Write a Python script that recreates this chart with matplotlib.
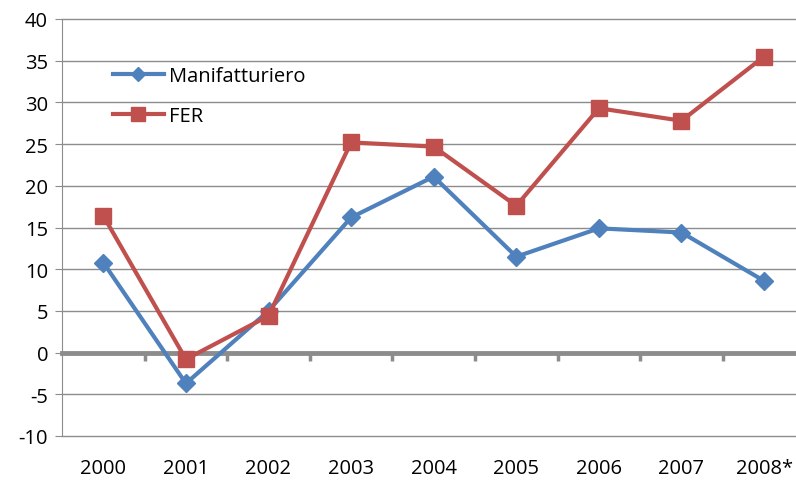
import matplotlib
matplotlib.use("Agg")
import matplotlib.pyplot as plt

years = ["2000", "2001", "2002", "2003", "2004", "2005", "2006", "2007", "2008*"]
manifatturiero = [10.8, -3.7, 5.0, 16.2, 21.1, 11.5, 14.9, 14.4, 8.6]
fer = [16.4, -0.8, 4.4, 25.2, 24.7, 17.6, 29.3, 27.8, 35.5]

plt.rcParams['font.family'] = ['Open Sans', 'DejaVu Sans']
plt.rcParams['axes.unicode_minus'] = False

fig = plt.figure(figsize=(7.96, 4.85), dpi=100)
ax = fig.add_axes([62 / 796, 48 / 485, 1 - 62 / 796, (437 - 20) / 485])

x = list(range(len(years)))
ax.plot(x, manifatturiero, color="#4F81BD", lw=3, marker="D", ms=9,
        label="Manifatturiero", zorder=4)
ax.plot(x, fer, color="#C0504D", lw=3, marker="s", ms=12,
        label="FER", zorder=5)

ymin, ymax = -10, 40
ax.set_ylim(ymin, ymax)
ax.set_xlim(-0.5, (796 - 62) / 82.6 - 0.5)
ax.set_yticks(range(-10, 41, 5))
ax.yaxis.grid(True, color="#8C8C8C", lw=1)
for gl in ax.get_ygridlines():
    gl.set_clip_on(False)
ax.set_axisbelow(True)

for s in ["top", "right", "bottom"]:
    ax.spines[s].set_visible(False)
ax.spines["left"].set_color("#8C8C8C")

ax.set_xticks(x)
ax.set_xticklabels(years)
ax.tick_params(axis="x", length=0, pad=16, labelsize=14.5)
ax.tick_params(axis="y", length=5, color="#8C8C8C", labelsize=14.5, pad=5)

# zero axis with category boundary ticks
zero = ax.secondary_xaxis((0 - ymin) / (ymax - ymin))
zero.set_xticks([i + 0.5 for i in x])
zero.set_xticklabels([])
zero.tick_params(length=6, width=2.5, color="#8C8C8C")
zero.spines["bottom"].set_color("#8C8C8C")
zero.spines["bottom"].set_linewidth(3.5)

leg = ax.legend(loc="upper left", bbox_to_anchor=(0.045, 0.93), frameon=False,
                fontsize=14.5, handlelength=2.5, labelspacing=1.0,
                handletextpad=0.25, markerscale=0.8)

fig.savefig("out.png", dpi=100)
